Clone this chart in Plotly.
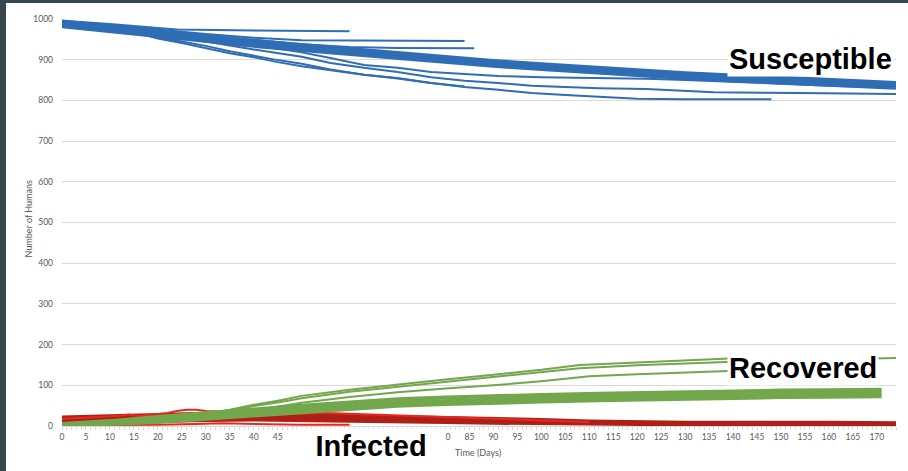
import plotly.graph_objects as go

# ---- Simulation output: number of humans per compartment, one list per run ----
# Susceptible runs that last the full 174 days (the dense band)
S_DAYS = [0, 10, 20, 30, 40, 50, 60, 70, 80, 90, 100, 110, 120, 130, 140, 150, 160, 174]
S_BAND_1 = [994, 982, 969, 957, 946, 936, 926, 916, 906, 897, 889, 881, 874, 867, 861, 855, 850, 843]
S_BAND_2 = [990, 978, 965, 953, 942, 932, 922, 912, 902, 893, 885, 877, 870, 863, 857, 851, 846, 839]
S_BAND_3 = [986, 974, 961, 949, 938, 928, 918, 908, 898, 889, 881, 873, 866, 859, 853, 847, 842, 835]
S_BAND_4 = [982, 970, 957, 945, 934, 924, 914, 904, 894, 885, 877, 869, 862, 855, 849, 843, 838, 831]

# Susceptible runs that ended early (outbreak died out)
S_SHORT_1_DAYS = [0, 10, 20, 24, 40, 60]
S_SHORT_1 = [996, 988, 978, 974, 972, 970]
S_SHORT_2_DAYS = [0, 10, 20, 30, 40, 50, 60, 70, 84]
S_SHORT_2 = [995, 985, 974, 963, 954, 948, 947, 946, 946]
S_SHORT_3_DAYS = [0, 10, 20, 30, 40, 50, 60, 70, 86]
S_SHORT_3 = [993, 982, 970, 959, 948, 938, 931, 929, 928]

# Susceptible runs with a larger epidemic
S_LOW_1_DAYS = [0, 10, 20, 30, 40, 50, 56, 63, 70, 77, 84, 91, 100, 112, 122, 130, 140, 150, 160, 174]
S_LOW_1 = [992, 979, 964, 952, 936, 918, 904, 887, 880, 870, 865, 860, 857, 855, 853, 850, 846, 841, 836, 831]
S_LOW_2_DAYS = [0, 10, 20, 30, 40, 50, 56, 63, 70, 77, 84, 91, 98, 105, 112, 122, 136, 154, 174]
S_LOW_2 = [991, 978, 960, 945, 925, 907, 892, 880, 870, 857, 848, 843, 836, 833, 830, 828, 820, 818, 816]
S_LOW_3_DAYS = [0, 10, 15, 20, 25, 30, 35, 40, 45, 50, 56, 63, 70, 77, 84, 91, 98, 105, 112, 120, 130, 148]
S_LOW_3 = [989, 976, 967, 955, 945, 934, 921, 910, 899, 890, 876, 863, 855, 843, 833, 826, 818, 813, 808, 804, 803, 803]
S_LOW_4_DAYS = [0, 10, 15, 20, 25, 30, 35, 40, 45, 50, 56, 63, 70, 77, 84]
S_LOW_4 = [990, 977, 968, 952, 941, 928, 916, 906, 894, 884, 874, 863, 854, 843, 834]

# Infected runs
I_DAYS = [0, 10, 20, 30, 40, 50, 60, 70, 80, 90, 100, 110, 120, 130, 140, 150, 160, 174]
I_BAND_1 = [21, 24, 28, 30, 29, 27, 25, 22, 20, 18, 15, 11, 9, 8, 8, 9, 8, 7]
I_BAND_2 = [14, 17, 21, 23, 22, 21, 19, 17, 15, 13, 11, 8, 6, 5, 5, 6, 5, 4]
I_BAND_3 = [7, 10, 13, 15, 16, 15, 13, 11, 10, 8, 7, 5, 3, 3, 3, 3, 2, 2]
I_PEAK_DAYS = [0, 5, 10, 12, 14, 16, 18, 20, 22, 24, 26, 28, 30, 32, 35, 38, 40, 45, 50, 55, 60, 65, 70, 80, 90, 100, 110]
I_PEAK = [18, 20, 24, 25, 28, 24, 27, 29, 32, 37, 40, 40, 37, 36, 36, 35, 31, 28, 30, 32, 30, 28, 26, 22, 18, 14, 10]
I_DIP_DAYS = [0, 10, 20, 28, 33, 36, 40, 45, 50, 60]
I_DIP = [2, 2, 3, 5, 7, 6, 5, 4, 3, 3]

# Recovered runs
R_DAYS = [0, 10, 20, 30, 40, 50, 60, 70, 80, 90, 100, 112, 120, 130, 140, 150, 160, 171]
R_BAND_1 = [5, 12, 22, 32, 41, 50, 58, 66, 70, 74, 76, 79, 81, 83, 85, 87, 88, 89]
R_BAND_2 = [2, 8, 16, 25, 34, 42, 50, 58, 62, 66, 68, 71, 73, 75, 77, 79, 80, 81]
R_BAND_3 = [0, 4, 10, 18, 27, 34, 42, 50, 54, 58, 60, 63, 65, 67, 69, 71, 72, 73]
R_HIGH_1_DAYS = [0, 10, 20, 30, 35, 40, 45, 50, 60, 70, 80, 90, 100, 108, 120, 130, 140, 148]
R_HIGH_1 = [0, 5, 14, 30, 40, 52, 62, 74, 89, 102, 114, 126, 138, 150, 156, 161, 166, 170]
R_HIGH_2_DAYS = [0, 10, 20, 30, 35, 40, 45, 50, 60, 70, 80, 90, 100, 108, 120, 130, 140, 150, 160, 174]
R_HIGH_2 = [0, 4, 12, 28, 38, 49, 58, 68, 84, 96, 108, 120, 131, 142, 149, 154, 158, 161, 163, 167]
R_HIGH_3_DAYS = [0, 10, 20, 30, 40, 50, 60, 70, 80, 90, 100, 110, 120, 130, 140, 150]
R_HIGH_3 = [0, 6, 14, 25, 38, 57, 71, 83, 92, 100, 110, 122, 127, 131, 136, 140]

X_TICKS = list(range(0, 175, 5))
X_TICK_TEXT = ["" if 50 <= t <= 75 else str(t) for t in X_TICKS]  # hidden behind the "Infected" label
Y_TICKS = list(range(0, 1001, 100))

BLUE = "#2F6DB5"
GREEN = "#72A74C"
DARK_RED = "#AE1F17"
RED = "#E8281E"

fig = go.Figure()


def add_run(days, values, color, width):
    fig.add_trace(go.Scatter(
        x=days, y=values, mode="lines",
        line=dict(color=color, width=width),
        hoverinfo="skip", showlegend=False,
    ))


# Susceptible
for v in [S_BAND_1, S_BAND_2, S_BAND_3, S_BAND_4]:
    add_run(S_DAYS, v, BLUE, 4)
for d, v in [(S_SHORT_1_DAYS, S_SHORT_1), (S_SHORT_2_DAYS, S_SHORT_2), (S_SHORT_3_DAYS, S_SHORT_3),
             (S_LOW_1_DAYS, S_LOW_1), (S_LOW_2_DAYS, S_LOW_2), (S_LOW_3_DAYS, S_LOW_3),
             (S_LOW_4_DAYS, S_LOW_4)]:
    add_run(d, v, BLUE, 2)

# Infected
for v in [I_BAND_1, I_BAND_2, I_BAND_3]:
    add_run(I_DAYS, v, DARK_RED, 4)
add_run(I_PEAK_DAYS, I_PEAK, RED, 2)
add_run(I_DIP_DAYS, I_DIP, RED, 2)

# Recovered
for v in [R_BAND_1, R_BAND_2, R_BAND_3]:
    add_run(R_DAYS, v, GREEN, 4)
for d, v in [(R_HIGH_1_DAYS, R_HIGH_1), (R_HIGH_2_DAYS, R_HIGH_2), (R_HIGH_3_DAYS, R_HIGH_3)]:
    add_run(d, v, GREEN, 2)

TICK_FONT = dict(family="Lato, 'Open Sans', sans-serif", size=8.5, color="#595959")
GRID = "#D9D9D9"

fig.update_layout(
    width=908, height=471,
    margin=dict(l=62, r=12, t=19, b=45),
    paper_bgcolor="white",
    plot_bgcolor="white",
    showlegend=False,
    xaxis=dict(
        range=[0, 174],
        tickmode="array", tickvals=X_TICKS, ticktext=X_TICK_TEXT,
        tickfont=TICK_FONT, tickangle=0,
        ticks="outside", ticklen=3, tickcolor=GRID,
        minor=dict(dtick=1, tick0=0, ticks="outside", ticklen=3, tickcolor=GRID, showgrid=False),
        showgrid=False, zeroline=False,
        showline=True, linecolor=GRID, linewidth=1,
    ),
    yaxis=dict(
        range=[0, 1000],
        tickmode="array", tickvals=Y_TICKS,
        tickfont=TICK_FONT,
        showgrid=True, gridcolor=GRID, gridwidth=1,
        zeroline=False, showline=False, ticks="",
        ticklabelstandoff=8,
    ),
)

LABEL_FONT = dict(family="'Liberation Sans', Arial, sans-serif", size=29, color="black")
TITLE_FONT = dict(family="Lato, 'Open Sans', sans-serif", size=9, color="#595959")

fig.add_annotation(text="<b>Susceptible</b>", xref="paper", yref="paper", x=0.897, y=0.902,
                   xanchor="center", yanchor="middle", showarrow=False,
                   font=LABEL_FONT, bgcolor="white", height=32)
fig.add_annotation(text="<b>Recovered</b>", xref="paper", yref="paper", x=0.8885, y=0.1425,
                   xanchor="center", yanchor="middle", showarrow=False,
                   font=LABEL_FONT, bgcolor="white", height=32)
fig.add_annotation(text="<b>Infected</b>", xref="paper", yref="paper", x=0.3705, y=-0.049,
                   xanchor="center", yanchor="middle", showarrow=False,
                   font=LABEL_FONT, bgcolor="white", width=146, height=32)

# Axis titles
fig.add_annotation(text="Number of Humans", xref="paper", yref="paper", x=-0.0408, y=0.51,
                   xanchor="center", yanchor="middle", textangle=-90, showarrow=False,
                   font=TITLE_FONT)
fig.add_annotation(text="Time (Days)", xref="paper", yref="paper", x=0.4988, y=-0.066,
                   xanchor="center", yanchor="middle", showarrow=False, font=TITLE_FONT)

# Dark slide frame along the left and top edges
FRAME = "#37474F"
fig.add_shape(type="rect", xref="paper", yref="paper", x0=-0.08, x1=-0.06715, y0=-0.2, y1=1.1,
              fillcolor=FRAME, line=dict(width=0), layer="above")
fig.add_shape(type="rect", xref="paper", yref="paper", x0=-0.08, x1=1.1, y0=1.0393, y1=1.1,
              fillcolor=FRAME, line=dict(width=0), layer="above")

fig.write_html("out.html")
